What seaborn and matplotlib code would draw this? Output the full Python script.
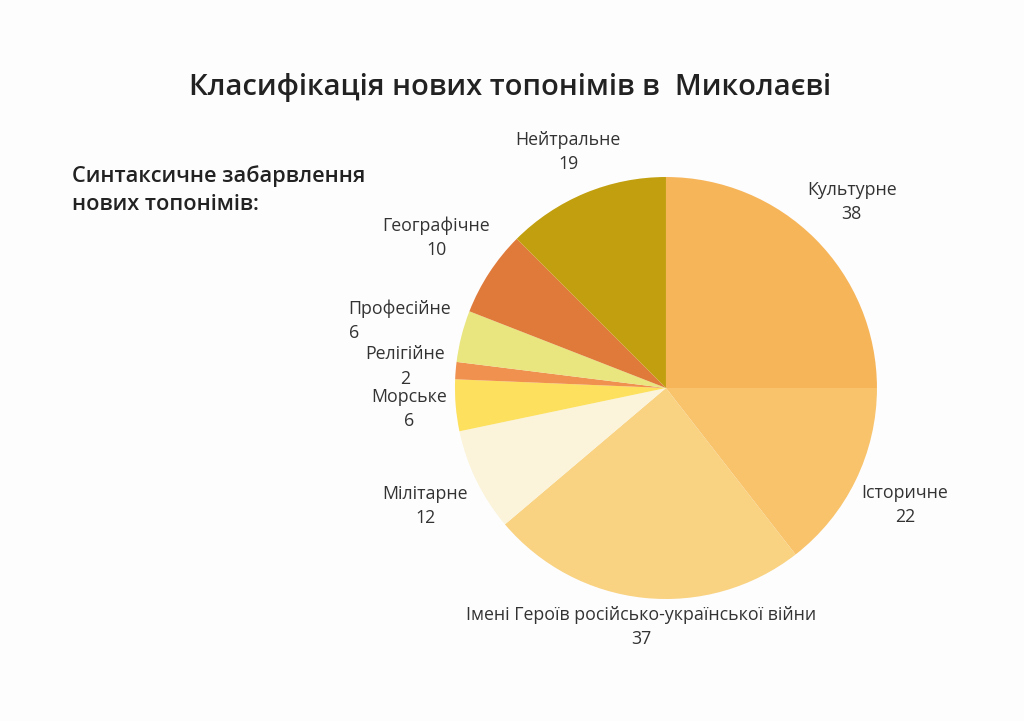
import numpy as np
import matplotlib
matplotlib.use("Agg")
import matplotlib.pyplot as plt
import seaborn as sns

# data
categories = ["Культурне", "Історичне", "Імені Героїв російсько-української війни",
              "Мілітарне", "Морське", "Релігійне", "Професійне", "Географічне", "Нейтральне"]
counts = [38, 22, 37, 12, 6, 2, 6, 10, 19]
colors = ["#F7B55A", "#F8C36B", "#F9D282", "#FBF4DA", "#FCE05E",
          "#F0914F", "#E9E57F", "#DF7A3B", "#C29F0E"]

title = "Класифікація нових топонімів в  Миколаєві"
subtitle = "Синтаксичне забарвлення\nнових топонімів:"

sns.set_theme(style="white")
plt.rcParams["font.family"] = ["Open Sans", "DejaVu Sans"]

fig = plt.figure(figsize=(10.24, 7.21), dpi=100)
fig.patch.set_facecolor("#FDFDFD")

# square axes for the pie, centre about (666, 388) px, radius 211 px
ax = fig.add_axes([0.4443, 0.1692, 0.4121, 0.5853])
ax.set_facecolor("none")
wedges, _ = ax.pie(counts, colors=colors, startangle=90, counterclock=False,
                   radius=1.0, wedgeprops=dict(linewidth=0))
ax.set_xlim(-1, 1)
ax.set_ylim(-1, 1)
ax.set_aspect("equal")
ax.axis("off")

# label distance (in radii) per wedge, just layout
label_r = [1.245, 1.26, 1.14, 1.27, 1.22, 1.24, 1.30, 1.30, 1.21]
for w, name, n, d in zip(wedges, categories, counts, label_r):
    ang = np.deg2rad((w.theta1 + w.theta2) / 2)
    align = "left" if name == "Професійне" else "center"
    ax.text(d * np.cos(ang), d * np.sin(ang), f"{name}\n{n}",
            ha="center", va="center", multialignment=align, fontsize=12.8,
            color="#333333", linespacing=1.45)

fig.text(0.498, 0.878, title, ha="center", va="center", fontsize=21,
         fontweight="semibold", color="#222222")
fig.text(0.070, 0.736, subtitle, ha="left", va="center", fontsize=15.7,
         fontweight="semibold", color="#222222", linespacing=1.45)

fig.savefig("out.png", dpi=100, facecolor=fig.get_facecolor())
